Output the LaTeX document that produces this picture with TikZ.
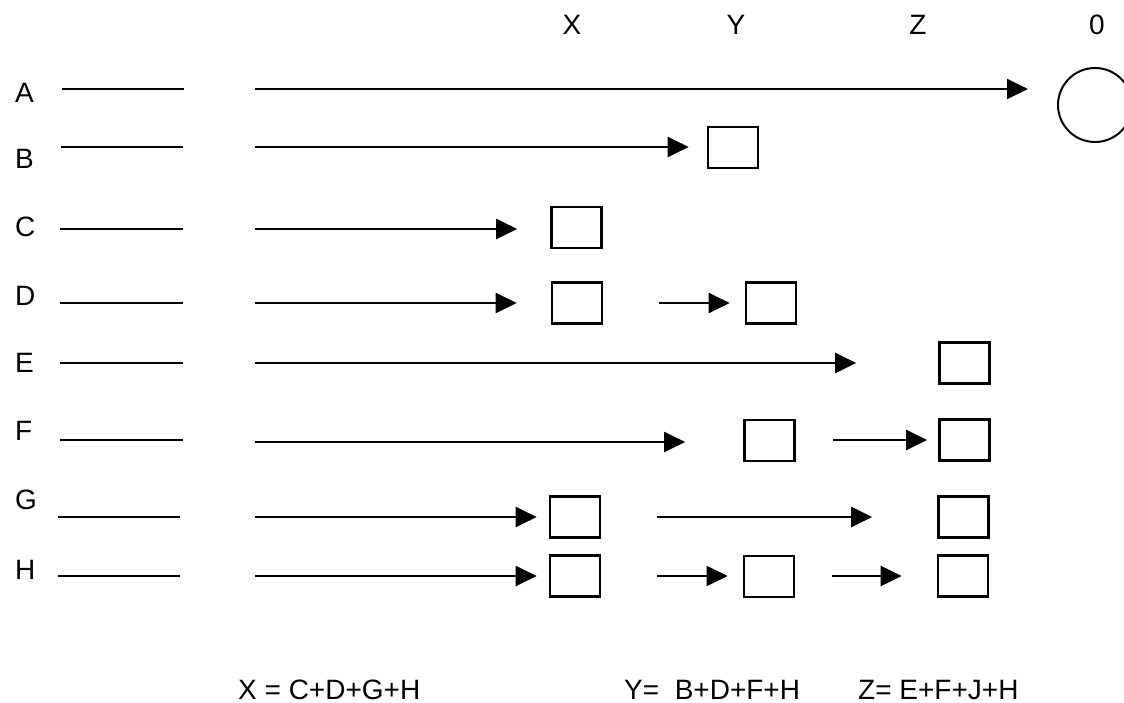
\documentclass[tikz,border=0pt]{standalone}
\usepackage{fontspec}
\setmainfont{Liberation Sans}
\usetikzlibrary{arrows.meta}
\tikzset{
  lbl/.style={inner sep=0pt, font=\fontsize{28}{30}\selectfont},
  stub/.style={line width=2.2pt},
  arr/.style={line width=2pt, -{Triangle[length=21pt,width=20pt]}},
  cell/.style={draw, line width=2.6pt, minimum width=50pt, minimum height=41pt, inner sep=0pt},
}
\begin{document}
\begin{tikzpicture}[x=1pt, y=-1pt]
\clip (0,0) rectangle (1124,703);
\fill[white] (0,0) rectangle (1124,703);

% column headings
\node[lbl] (hX) at (572,25) {X};
\node[lbl] (hY) at (736,25) {Y};
\node[lbl] (hZ) at (918,25) {Z};
\node[lbl] (h0) at (1097,25) {0};

% row labels
\node[lbl, anchor=west] (lA) at (15,93) {A};
\node[lbl, anchor=west] (lB) at (15,159) {B};
\node[lbl, anchor=west] (lC) at (15,227) {C};
\node[lbl, anchor=west] (lD) at (15,296) {D};
\node[lbl, anchor=west] (lE) at (15,363) {E};
\node[lbl, anchor=west] (lF) at (15,431) {F};
\node[lbl, anchor=west] (lG) at (15,500) {G};
\node[lbl, anchor=west] (lH) at (15,570) {H};

% short lines beside the labels
\coordinate (aA) at (62,89);  \coordinate (bA) at (184,89);
\coordinate (aB) at (61,147); \coordinate (bB) at (183,147);
\coordinate (aC) at (60,229); \coordinate (bC) at (183,229);
\coordinate (aD) at (60,303); \coordinate (bD) at (183,303);
\coordinate (aE) at (60,363); \coordinate (bE) at (183,363);
\coordinate (aF) at (60,440); \coordinate (bF) at (183,440);
\coordinate (aG) at (58,517); \coordinate (bG) at (180,517);
\coordinate (aH) at (58,576); \coordinate (bH) at (180,576);
\foreach \r in {A,B,C,D,E,F,G,H} \draw[stub] (a\r) -- (b\r);

% terminal circle and boxes
\node[draw, circle, line width=2pt, minimum size=74pt, inner sep=0pt] (o) at (1095,105) {};
\node[cell] (B1) at (733,147.5) {};
\node[cell] (C1) at (576.5,227.5) {};
\node[cell] (D1) at (577,303) {};
\node[cell] (D2) at (771,303) {};
\node[cell] (E1) at (964.5,363) {};
\node[cell] (F1) at (769.5,440.5) {};
\node[cell] (F2) at (964.5,440) {};
\node[cell] (G1) at (575,517) {};
\node[cell] (G2) at (963.5,517) {};
\node[cell] (H1) at (575,576) {};
\node[cell] (H2) at (769,576.5) {};
\node[cell] (H3) at (963,576) {};

% arrow starting points
\coordinate (sA) at (255,89);
\coordinate (sB) at (255,147);
\coordinate (sC) at (255,229);
\coordinate (sD) at (255,303);
\coordinate (sD2) at (659,303);
\coordinate (sE) at (255,363);
\coordinate (sF) at (255,442);
\coordinate (sF2) at (833,440);
\coordinate (sG) at (255,517);
\coordinate (sG2) at (657,517);
\coordinate (sH) at (255,576);
\coordinate (sH2) at (657,576);
\coordinate (sH3) at (832,576);

% arrows
\draw[arr, shorten >=29pt] (sA) -- (sA -| o.west);
\draw[arr, shorten >=18pt] (sB) -- (sB -| B1.west);
\draw[arr, shorten >=33pt] (sC) -- (sC -| C1.west);
\draw[arr, shorten >=34pt] (sD) -- (sD -| D1.west);
\draw[arr, shorten >=15pt] (sD2) -- (sD2 -| D2.west);
\draw[arr, shorten >=82pt] (sE) -- (sE -| E1.west);
\draw[arr, shorten >=58pt] (sF) -- (sF -| F1.west);
\draw[arr, shorten >=11pt] (sF2) -- (sF2 -| F2.west);
\draw[arr, shorten >=12pt] (sG) -- (sG -| G1.west);
\draw[arr, shorten >=65pt] (sG2) -- (sG2 -| G2.west);
\draw[arr, shorten >=12pt] (sH) -- (sH -| H1.west);
\draw[arr, shorten >=15pt] (sH2) -- (sH2 -| H2.west);
\draw[arr, shorten >=35pt] (sH3) -- (sH3 -| H3.west);

% sums
\node[lbl, anchor=base west] (sumX) at (238,699) {X = C+D+G+H};
\node[lbl, anchor=base west] (sumY) at (624,699) {Y=\ \ B+D+F+H};
\node[lbl, anchor=base west] (sumZ) at (858,699) {Z= E+F+J+H};
\end{tikzpicture}
\end{document}
